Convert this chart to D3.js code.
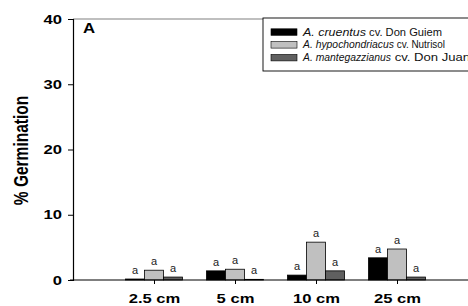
<!DOCTYPE html>
<html>
<head>
<meta charset="utf-8">
<script src="https://cdn.jsdelivr.net/npm/d3@7"></script>
<style>
  body { margin: 0; background: #fff; }
  svg { font-family: "Liberation Sans", Arial, sans-serif; }
</style>
</head>
<body>
<div id="chart"></div>
<script>
// data
var depths = ["2.5 cm", "5 cm", "10 cm", "25 cm"];
var cruentus = [0.15, 1.4, 0.75, 3.4];
var hypochondriacus = [1.5, 1.65, 5.8, 4.75];
var mantegazzianus = [0.45, 0.1, 1.4, 0.45];
var letters = [["a","a","a"], ["a","a","a"], ["a","a","a"], ["a","a","a"]];
var yTicks = [0, 10, 20, 30, 40];

var width = 468, height = 306;
var margin = {top: 19, left: 73};
var stretch = 1.33; // the original figure is widened, text too

var series = [
  {vals: cruentus, fill: "#000000", sp: "A. cruentus", cv: " cv. Don Guiem", w: [63, 76]},
  {vals: hypochondriacus, fill: "#c0c0c0", sp: "A. hypochondriacus", cv: " cv. Nutrisol", w: [91, 51]},
  {vals: mantegazzianus, fill: "#606060", sp: "A. mantegazzianus", cv: " cv. Don Juan", w: [88, 79]}
];

var svg = d3.select("#chart").append("svg")
    .attr("width", width)
    .attr("height", height);

// category positions 1..4, axis starts at 0
var x = d3.scaleLinear().domain([0, 5]).range([margin.left, margin.left + 405]);
var y = d3.scaleLinear().domain([0, 40]).range([280, margin.top]);
var barW = 19;

// top frame line
svg.append("line")
    .attr("x1", margin.left).attr("x2", width)
    .attr("y1", y(40)).attr("y2", y(40))
    .attr("stroke", "#808080").attr("stroke-width", 1.2);

// bars
series.forEach(function(s, si) {
  svg.append("g").selectAll("rect")
    .data(s.vals)
    .join("rect")
      .attr("x", (d, i) => x(i + 1) - 1.5 * barW + si * barW)
      .attr("y", d => y(d))
      .attr("width", barW)
      .attr("height", d => y(0) - y(d))
      .attr("fill", s.fill)
      .attr("stroke", "#000")
      .attr("stroke-width", 0.8);

  svg.append("g").selectAll("text")
    .data(s.vals)
    .join("text")
      .attr("x", (d, i) => x(i + 1) - barW + si * barW)
      .attr("y", d => y(d) - 5)
      .attr("text-anchor", "middle")
      .attr("font-size", "11px")
      .attr("fill", "#222")
      .text((d, i) => letters[i][si]);
});

// y axis
var yAxis = svg.append("g")
    .attr("transform", `translate(${margin.left},0)`)
    .call(d3.axisLeft(y).tickValues(yTicks).tickSize(5));
yAxis.select(".domain").attr("stroke", "#000").attr("stroke-width", 1.2);
yAxis.selectAll(".tick text")
    .attr("x", 0)
    .attr("transform", `translate(-11,0) scale(${stretch},1)`)
    .attr("font-size", "12.5px").attr("font-weight", "bold")
    .attr("fill", "#000").attr("font-family", "Liberation Sans, Arial, sans-serif");

// x axis
svg.append("line")
    .attr("x1", margin.left - 3).attr("x2", width)
    .attr("y1", y(0)).attr("y2", y(0))
    .attr("stroke", "#000").attr("stroke-width", 1.2);
var xAxis = svg.append("g")
    .attr("transform", `translate(0,${y(0)})`)
    .call(d3.axisBottom(x).tickValues([1, 2, 3, 4]).tickFormat((d) => depths[d - 1])
      .tickSize(4));
xAxis.select(".domain").remove();
xAxis.selectAll(".tick text")
    .attr("y", 0).attr("dy", null)
    .attr("transform", `translate(0,23) scale(${stretch},1)`)
    .attr("font-size", "12.5px").attr("font-weight", "bold")
    .attr("fill", "#000").attr("font-family", "Liberation Sans, Arial, sans-serif");

// axis title
svg.append("text")
    .attr("transform", `translate(28,${(y(0) + y(40)) / 2 + 1}) rotate(-90) scale(1,${stretch})`)
    .attr("text-anchor", "middle")
    .attr("font-size", "15.5px")
    .attr("font-weight", "bold")
    .text("% Germination");

// panel letter
svg.append("text")
    .attr("transform", "translate(83,33) scale(1.2,1)")
    .attr("font-size", "14px").attr("font-weight", "bold")
    .text("A");

// legend
var lg = svg.append("g").attr("transform", "translate(263,18)");
lg.append("rect")
    .attr("width", 230).attr("height", 53)
    .attr("fill", "#fff").attr("stroke", "#000").attr("stroke-width", 0.9);
series.forEach(function(s, i) {
  var row = lg.append("g").attr("transform", `translate(0,${14 + i * 12.8})`);
  row.append("rect")
      .attr("x", 8).attr("y", -3.2).attr("width", 26).attr("height", 6.5)
      .attr("fill", s.fill).attr("stroke", "#000").attr("stroke-width", 0.6);
  row.append("text")
      .attr("x", 40).attr("y", 3.6)
      .attr("font-size", "10.5px").attr("font-style", "italic").attr("fill", "#111")
      .attr("textLength", s.w[0]).attr("lengthAdjust", "spacingAndGlyphs")
      .text(s.sp);
  row.append("text")
      .attr("x", 40 + s.w[0]).attr("y", 3.6)
      .attr("font-size", "10.5px").attr("fill", "#111")
      .attr("textLength", s.w[1]).attr("lengthAdjust", "spacingAndGlyphs")
      .style("white-space", "pre")
      .text(s.cv);
});
</script>
</body>
</html>
